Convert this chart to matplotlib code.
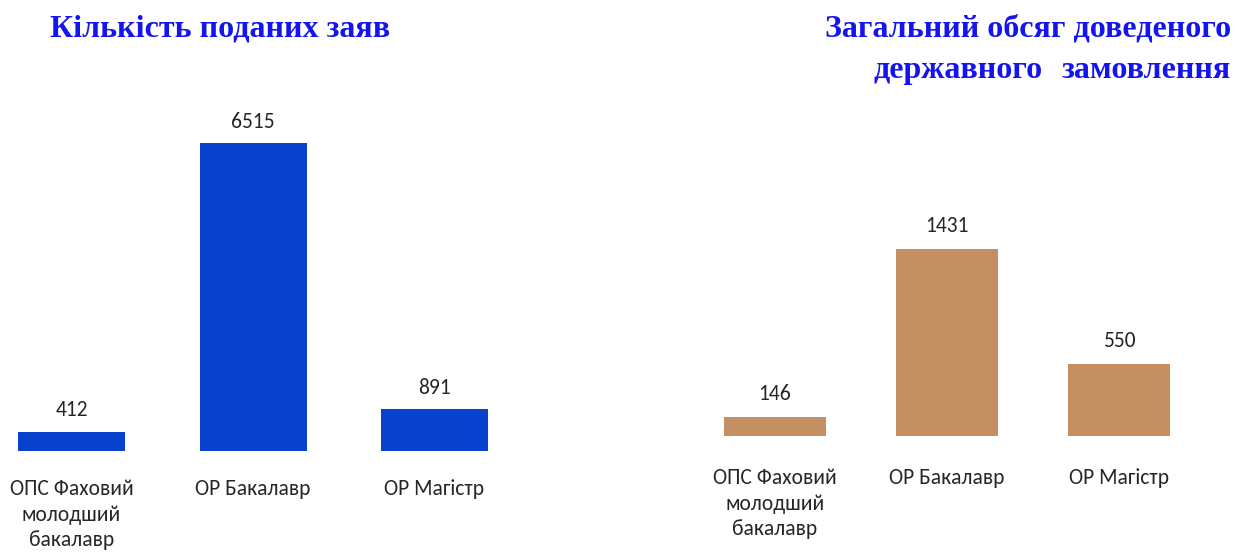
import matplotlib
matplotlib.use("Agg")
import matplotlib.pyplot as plt

# ---- data ----
categories = ["ОПС Фаховий\nмолодший\nбакалавр", "ОР Бакалавр", "ОР Магістр"]
applications = [412, 6515, 891]
state_order = [146, 1431, 550]
title_left = "Кількість поданих заяв"
title_right_1 = "Загальний обсяг доведеного"
title_right_2a = "державного"
title_right_2b = "замовлення"

BLUE = "#0841CC"
TAN = "#C48F63"
TITLE_BLUE = "#1414EE"
TEXT = "#262626"

W, H = 1239, 552
fig = plt.figure(figsize=(W / 100, H / 100), dpi=100)

label_font = ["Carlito", "DejaVu Sans"]
title_font = ["Liberation Serif", "DejaVu Serif"]
LF = dict(family=label_font)
FS = 15.5


def make_axes(px_left, px_right, px_base, px_top, center0, spacing, vmax, vmax_px):
    ax = fig.add_axes([px_left / W, (H - px_base) / H,
                       (px_right - px_left) / W, (px_base - px_top) / H])
    ax.set_xlim((px_left - center0) / spacing, (px_right - center0) / spacing)
    ax.set_ylim(0, vmax * (px_base - px_top) / vmax_px)
    for s in ax.spines.values():
        s.set_visible(False)
    ax.set_yticks([])
    ax.patch.set_alpha(0)
    return ax


def draw(ax, values, color, width, pad, label_offset):
    x = list(range(len(values)))
    ax.bar(x, values, width=width, color=color, linewidth=0)
    for xi, v in zip(x, values):
        ax.annotate(str(v), (xi, v), xytext=(0, label_offset), textcoords="offset points",
                    ha="center", va="baseline", fontsize=FS, color=TEXT, **LF)
    ax.set_xticks(x)
    ax.set_xticklabels(categories, fontsize=FS, color=TEXT, linespacing=1.36, **LF)
    ax.tick_params(axis="x", length=0, pad=pad)


ax1 = make_axes(0, 620, 451, 100, 71.5, 181.5, applications[1], 308)
draw(ax1, applications, BLUE, 107 / 181.5, 20, 11)

ax2 = make_axes(640, 1239, 436, 100, 775, 172, state_order[1], 187)
draw(ax2, state_order, TAN, 102 / 172, 23, 12.5)

fig.text(50 / W, (H - 37) / H, title_left, fontsize=23, fontweight="bold",
         color=TITLE_BLUE, family=title_font, ha="left", va="baseline")
fig.text(1231 / W, (H - 37) / H, title_right_1, fontsize=23, fontweight="bold",
         color=TITLE_BLUE, family=title_font, ha="right", va="baseline")
fig.text(873 / W, (H - 78) / H, title_right_2a, fontsize=23, fontweight="bold",
         color=TITLE_BLUE, family=title_font, ha="left", va="baseline")
fig.text(1231 / W, (H - 78) / H, title_right_2b, fontsize=23, fontweight="bold",
         color=TITLE_BLUE, family=title_font, ha="right", va="baseline")

fig.savefig("out.png", dpi=100, facecolor="white")
